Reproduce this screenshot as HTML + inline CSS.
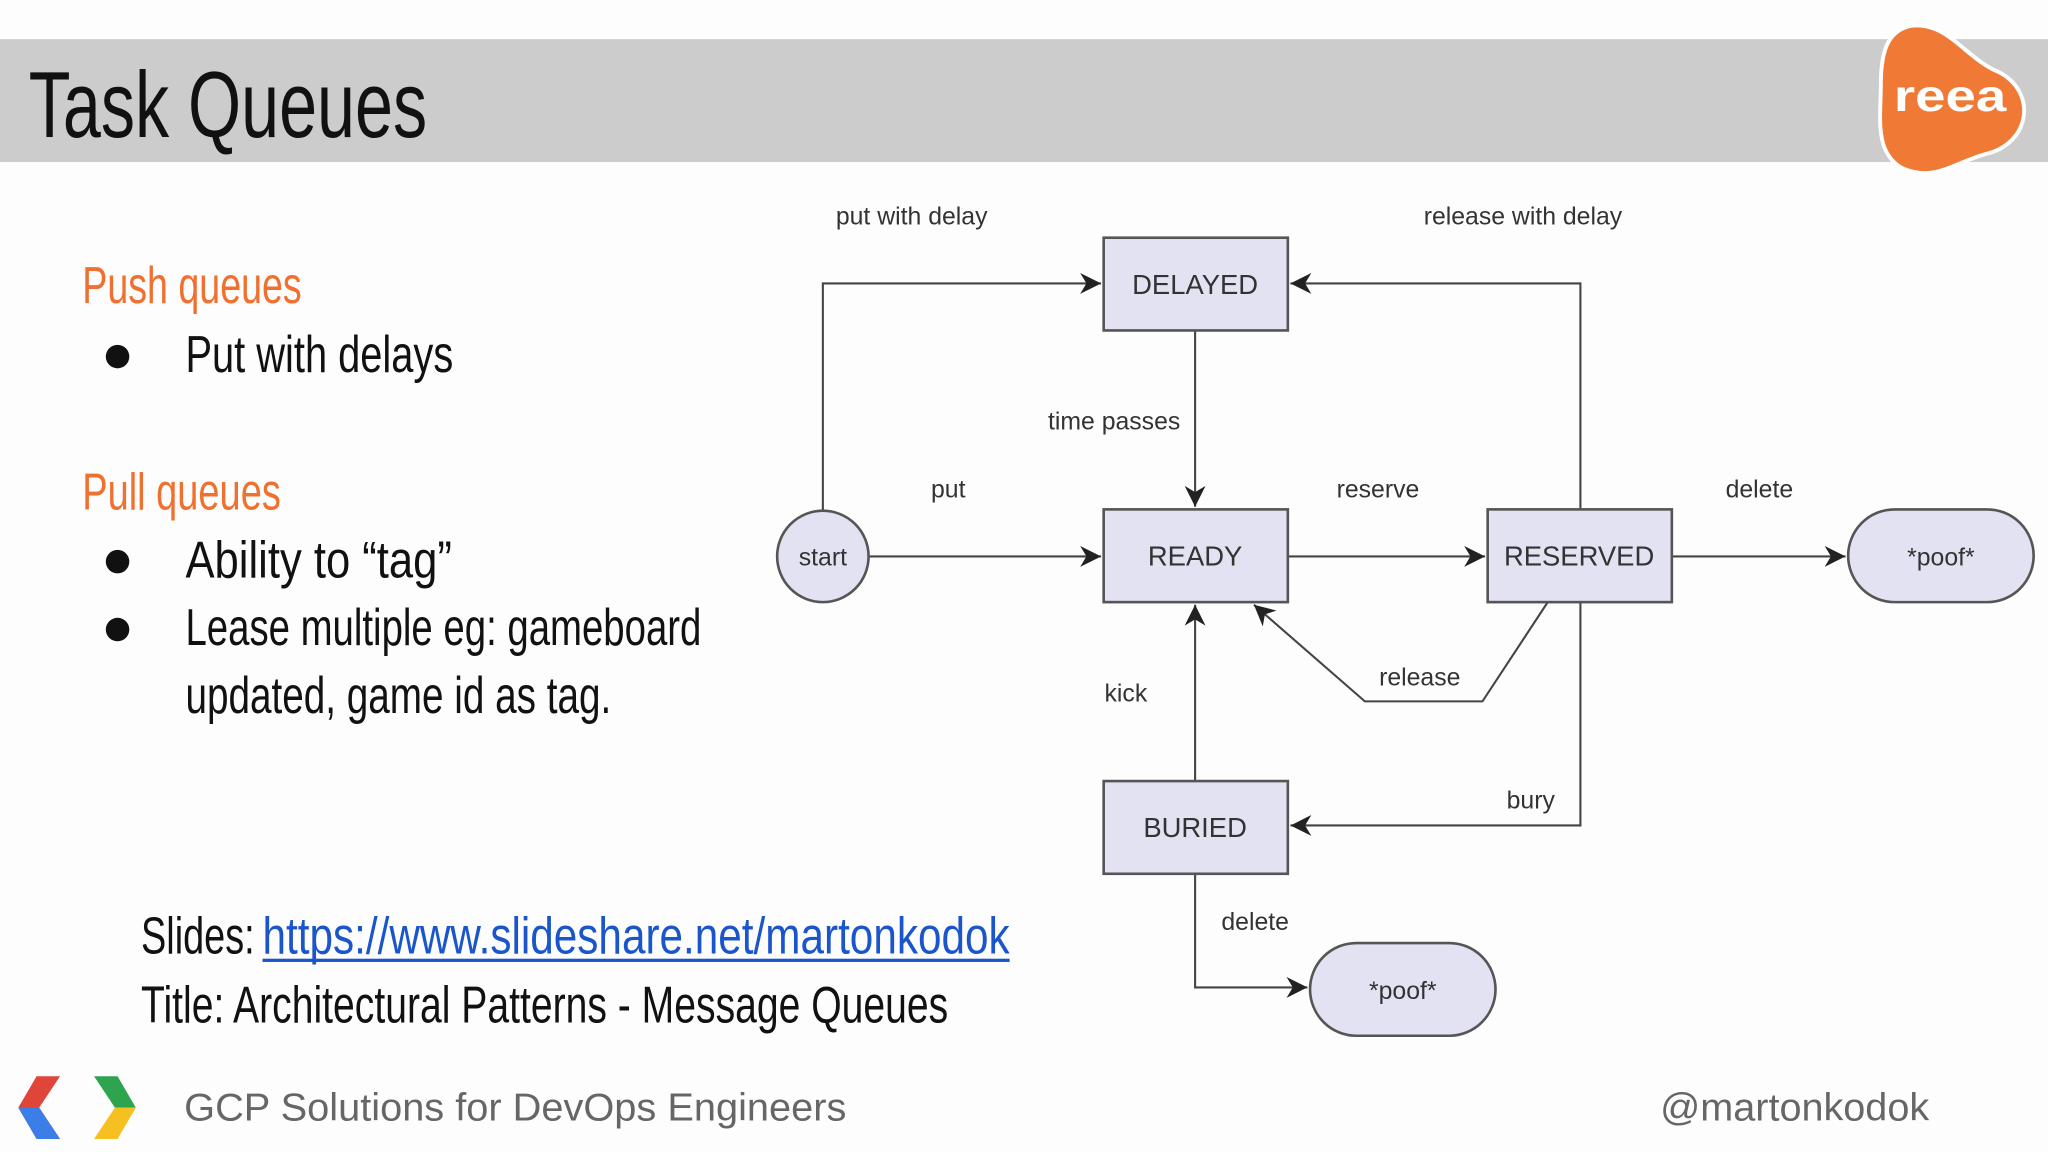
<!DOCTYPE html>
<html><head><meta charset="utf-8"><style>html,body{margin:0;padding:0;background:#fff}svg{display:block}</style></head>
<body>
<svg width="2048" height="1152" viewBox="0 0 1568 882" preserveAspectRatio="none" xmlns="http://www.w3.org/2000/svg">
<defs>
<marker id="a" viewBox="0 0 10 10" refX="10" refY="5" markerWidth="11" markerHeight="11" markerUnits="userSpaceOnUse" orient="auto"><path d="M0,0 L10,5 L0,10 L3,5z" fill="#222"/></marker>
<marker id="b" viewBox="0 0 10 10" refX="10" refY="5" markerWidth="16" markerHeight="16" markerUnits="userSpaceOnUse" orient="auto"><path d="M0,0 L10,5 L0,10 L3,5z" fill="#222"/></marker>
</defs>
<rect width="1568" height="882" fill="#fdfdfd"/>
<rect x="0" y="30" width="1568" height="94" fill="#cccccc"/>
<text x="22" y="105" font-family="Liberation Sans" font-size="72" fill="#111" textLength="305" lengthAdjust="spacingAndGlyphs">Task Queues</text>
<!-- reea logo -->
<path d="M1462,20 C1490,15 1505,45 1530,55 C1560,70 1555,110 1520,118 C1495,125 1480,140 1455,128 C1435,115 1440,90 1440,65 C1440,40 1445,24 1462,20z" fill="#f07a35" stroke="#fff" stroke-width="3"/>
<text x="1493" y="85" font-family="Liberation Sans" font-weight="bold" font-size="34" fill="#fff" text-anchor="middle" textLength="86" lengthAdjust="spacingAndGlyphs">reea</text>

<g font-family="Liberation Sans" lengthAdjust="spacingAndGlyphs">
<text x="63" y="232" font-size="40" fill="#f07030" textLength="168" lengthAdjust="spacingAndGlyphs">Push queues</text>
<circle cx="90" cy="273" r="9" fill="#111"/>
<text x="142" y="285" font-size="40" fill="#111" textLength="205" lengthAdjust="spacingAndGlyphs">Put with delays</text>
<text x="63" y="390" font-size="40" fill="#f07030" textLength="152" lengthAdjust="spacingAndGlyphs">Pull queues</text>
<circle cx="90" cy="430" r="9" fill="#111"/>
<text x="142" y="442" font-size="40" fill="#111" textLength="204" lengthAdjust="spacingAndGlyphs">Ability to “tag”</text>
<circle cx="90" cy="482" r="9" fill="#111"/>
<text x="142" y="494" font-size="40" fill="#111" textLength="395" lengthAdjust="spacingAndGlyphs">Lease multiple eg: gameboard</text>
<text x="142" y="546" font-size="40" fill="#111" textLength="326" lengthAdjust="spacingAndGlyphs">updated, game id as tag.</text>
<text x="108" y="730" font-size="40" fill="#111" textLength="87" lengthAdjust="spacingAndGlyphs">Slides:</text>
<text x="201" y="730" font-size="40" fill="#1a55cc" textLength="572" lengthAdjust="spacingAndGlyphs">https://www.slideshare.net/martonkodok</text>
<rect x="201" y="734" width="572" height="2.5" fill="#1a55cc"/>
<text x="108" y="783" font-size="40" fill="#111" textLength="618" lengthAdjust="spacingAndGlyphs">Title: Architectural Patterns - Message Queues</text>
<text x="141" y="858" font-size="30" fill="#666" textLength="507" lengthAdjust="spacingAndGlyphs">GCP Solutions for DevOps Engineers</text>
<text x="1271" y="858" font-size="30" fill="#666" textLength="206" lengthAdjust="spacingAndGlyphs">@martonkodok</text>
</g>
<!-- google logo -->
<path d="M28,824 L46,824 L30,848 L46,872 L28,872 L14,848z" fill="#e0453a"/>
<path d="M14,848 L30,848 L46,872 L28,872z" fill="#3c7ee8"/>
<path d="M72,824 L90,824 L104,848 L88,848z" fill="#2fa44f"/>
<path d="M88,848 L104,848 L90,872 L72,872z" fill="#f6c021"/>

<!-- diagram -->
<g stroke="#444" stroke-width="1.6" fill="none">
<polyline points="630,391 630,217 843,217" marker-end="url(#b)"/>
<line x1="915" y1="253" x2="915" y2="388" marker-end="url(#b)"/>
<line x1="665" y1="426" x2="843" y2="426" marker-end="url(#b)"/>
<line x1="986" y1="426" x2="1137" y2="426" marker-end="url(#b)"/>
<line x1="1280" y1="426" x2="1413" y2="426" marker-end="url(#b)"/>
<polyline points="1210,390 1210,217 988,217" marker-end="url(#b)"/>
<polyline points="1185,461 1135,537 1045,537 960,463" marker-end="url(#b)"/>
<line x1="915" y1="598" x2="915" y2="463" marker-end="url(#b)"/>
<polyline points="1210,461 1210,632 988,632" marker-end="url(#b)"/>
<polyline points="915,669 915,756 1001,756" marker-end="url(#b)"/>
</g>
<g fill="#e2e2f2" stroke="#555" stroke-width="2">
<rect x="845" y="182" width="141" height="71"/>
<rect x="845" y="390" width="141" height="71"/>
<rect x="1139" y="390" width="141" height="71"/>
<rect x="845" y="598" width="141" height="71"/>
<circle cx="630" cy="426" r="35"/>
<rect x="1415" y="390" width="142" height="71" rx="35.5"/>
<rect x="1003" y="722" width="142" height="71" rx="35.5"/>
</g>
<g font-family="Liberation Sans" fill="#333" text-anchor="middle">
<g font-size="21">
<text x="915" y="225">DELAYED</text>
<text x="915" y="433">READY</text>
<text x="1209" y="433">RESERVED</text>
<text x="915" y="641">BURIED</text>
</g>
<g font-size="19">
<text x="630" y="433">start</text>
<text x="1486" y="433">*poof*</text>
<text x="1074" y="765">*poof*</text>
<text x="698" y="172">put with delay</text>
<text x="1166" y="172">release with delay</text>
<text x="853" y="329">time passes</text>
<text x="726" y="381">put</text>
<text x="1055" y="381">reserve</text>
<text x="1347" y="381">delete</text>
<text x="1087" y="525">release</text>
<text x="862" y="537">kick</text>
<text x="1172" y="619">bury</text>
<text x="961" y="712">delete</text>
</g>
</g>
</svg>
</body></html>
